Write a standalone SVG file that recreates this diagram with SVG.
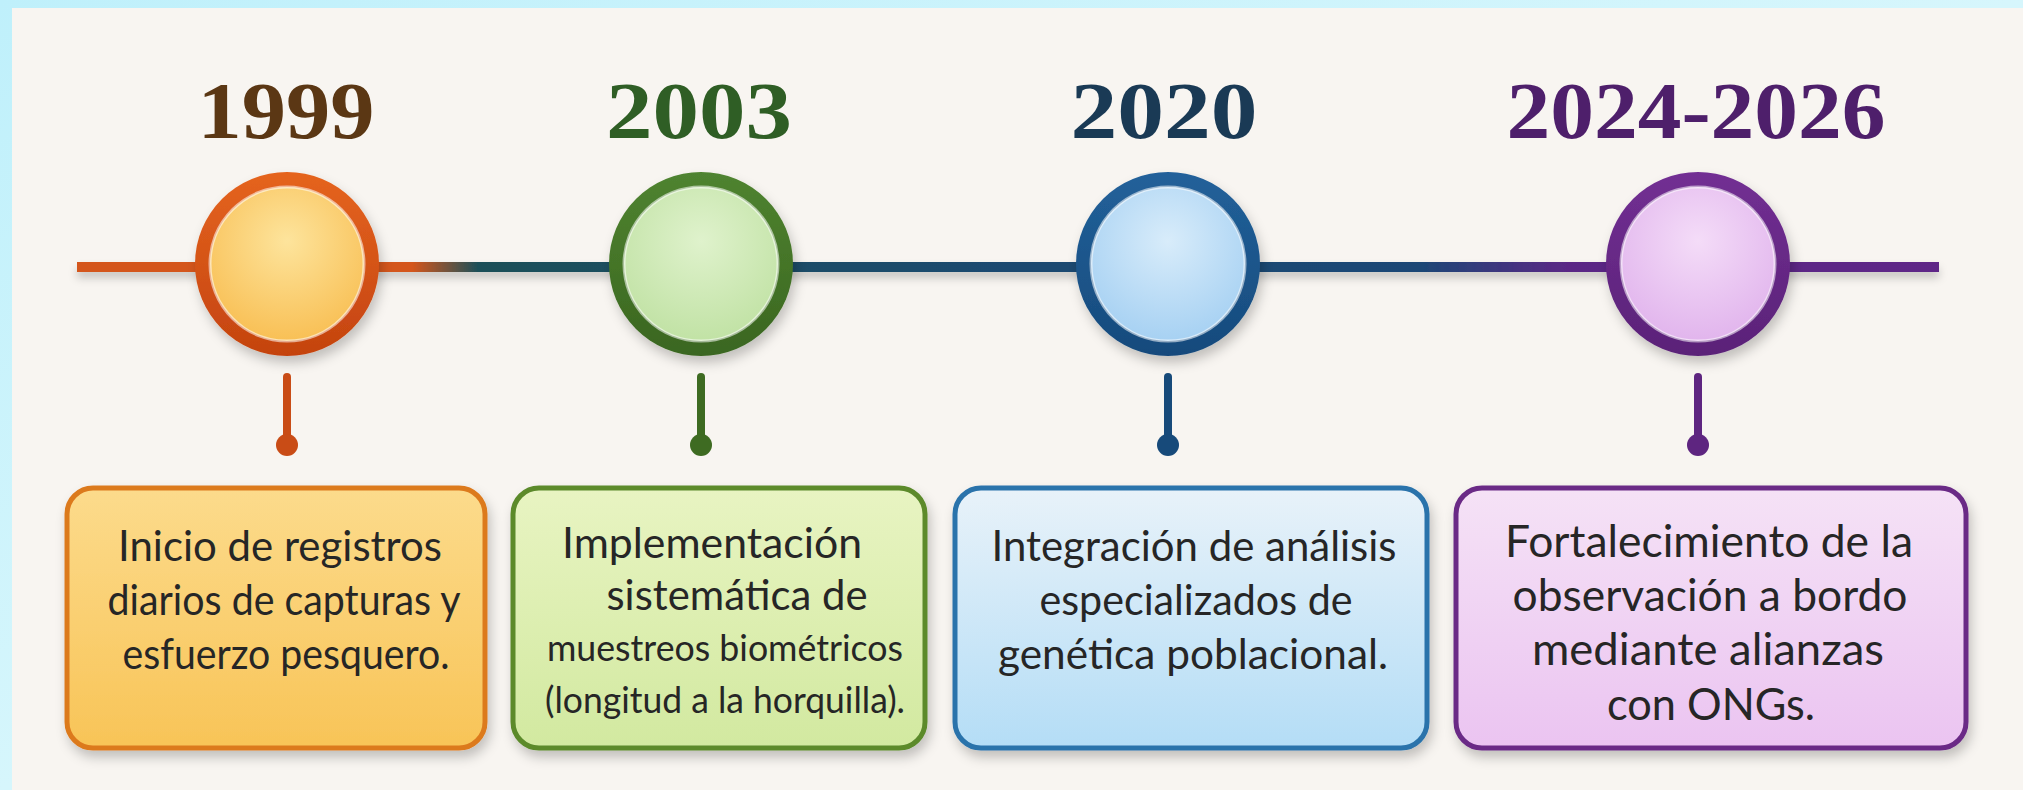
<svg xmlns="http://www.w3.org/2000/svg" width="2023" height="790" viewBox="0 0 2023 790">
<defs>
<linearGradient id="frame" x1="0" y1="0" x2="1" y2="1">
<stop offset="0" stop-color="#bff0fb"/><stop offset="0.5" stop-color="#d6f6fc"/><stop offset="1" stop-color="#bdeefa"/>
</linearGradient>
<linearGradient id="tl" gradientUnits="userSpaceOnUse" x1="77" y1="0" x2="1939" y2="0">
<stop offset="0" stop-color="#d4561c"/><stop offset="0.18" stop-color="#d4561c"/><stop offset="0.215" stop-color="#1f5058"/>
<stop offset="0.5" stop-color="#1c4a70"/><stop offset="0.72" stop-color="#1b4775"/><stop offset="0.8" stop-color="#5a2885"/><stop offset="1" stop-color="#5e2587"/>
</linearGradient>
<linearGradient id="r1" x1="0" y1="0" x2="0" y2="1"><stop offset="0" stop-color="#e5641f"/><stop offset="1" stop-color="#c4430f"/></linearGradient>
<linearGradient id="r2" x1="0" y1="0" x2="0" y2="1"><stop offset="0" stop-color="#4f8330"/><stop offset="1" stop-color="#3a6620"/></linearGradient>
<linearGradient id="r3" x1="0" y1="0" x2="0" y2="1"><stop offset="0" stop-color="#22619a"/><stop offset="1" stop-color="#164a7c"/></linearGradient>
<linearGradient id="r4" x1="0" y1="0" x2="0" y2="1"><stop offset="0" stop-color="#722f93"/><stop offset="1" stop-color="#5a2278"/></linearGradient>
<radialGradient id="c1" cx="0.5" cy="0.35" r="0.7"><stop offset="0" stop-color="#fde49c"/><stop offset="1" stop-color="#f8bd50"/></radialGradient>
<radialGradient id="c2" cx="0.5" cy="0.35" r="0.7"><stop offset="0" stop-color="#dff2cc"/><stop offset="1" stop-color="#bfe1a2"/></radialGradient>
<radialGradient id="c3" cx="0.5" cy="0.35" r="0.7"><stop offset="0" stop-color="#d8ecfa"/><stop offset="1" stop-color="#a3cff2"/></radialGradient>
<radialGradient id="c4" cx="0.5" cy="0.35" r="0.7"><stop offset="0" stop-color="#f4dcf8"/><stop offset="1" stop-color="#e0b2ec"/></radialGradient>
<linearGradient id="b1" x1="0" y1="0" x2="0" y2="1"><stop offset="0" stop-color="#fcdb8c"/><stop offset="1" stop-color="#f8c457"/></linearGradient>
<linearGradient id="b2" x1="0" y1="0" x2="0" y2="1"><stop offset="0" stop-color="#e8f4c2"/><stop offset="1" stop-color="#d2e9a0"/></linearGradient>
<linearGradient id="b3" x1="0" y1="0" x2="0" y2="1"><stop offset="0" stop-color="#e8f2f9"/><stop offset="1" stop-color="#b4ddf6"/></linearGradient>
<linearGradient id="b4" x1="0" y1="0" x2="0" y2="1"><stop offset="0" stop-color="#f5e2f6"/><stop offset="1" stop-color="#ebc4f1"/></linearGradient>
<filter id="sh" x="-20%" y="-20%" width="140%" height="150%"><feDropShadow dx="3" dy="7" stdDeviation="6" flood-color="#000" flood-opacity="0.22"/></filter>
<filter id="shl" filterUnits="userSpaceOnUse" x="60" y="240" width="1900" height="60"><feDropShadow dx="0" dy="6" stdDeviation="4" flood-color="#000" flood-opacity="0.2"/></filter>
</defs>
<style>
.yr{font-family:"Liberation Serif","Times New Roman",serif;font-weight:bold;font-size:80px;text-anchor:middle}
.tx{font-family:Lato,"Open Sans",sans-serif;font-size:43px;fill:#262626;text-anchor:middle}
.sm{font-size:37px}
.lg{font-size:45px}
.box{stroke-width:5}
.rim{stroke:#ffffff;stroke-opacity:0.55;stroke-width:3}
</style>
<rect id="bg" x="0" y="0" width="2023" height="790" fill="url(#frame)"/>
<rect x="12" y="8" width="2011" height="782" fill="#f8f5f1"/>

<g id="connectors">
<rect x="77" y="262" width="1862" height="10" fill="url(#tl)" filter="url(#shl)"/>
<g stroke-width="8" stroke-linecap="round">
<line x1="287" y1="377" x2="287" y2="440" stroke="#c94c16"/>
<line x1="701" y1="377" x2="701" y2="440" stroke="#3e6b22"/>
<line x1="1168" y1="377" x2="1168" y2="440" stroke="#174a7a"/>
<line x1="1698" y1="377" x2="1698" y2="440" stroke="#5e2580"/>
</g>
<circle cx="287" cy="445" r="11" fill="#c94c16"/>
<circle cx="701" cy="445" r="11" fill="#3e6b22"/>
<circle cx="1168" cy="445" r="11" fill="#174a7a"/>
<circle cx="1698" cy="445" r="11" fill="#5e2580"/>
</g>

<g id="node-1999">
<text class="yr" x="286" y="138" fill="#5b3714" textLength="177" lengthAdjust="spacingAndGlyphs">1999</text>
<circle cx="287" cy="264" r="92" fill="url(#r1)" filter="url(#sh)"/>
<circle cx="287" cy="264" r="77" fill="url(#c1)" class="rim"/>
<rect x="67" y="488" width="418" height="260" rx="26" fill="url(#b1)" stroke="#dc7a1f" class="box" filter="url(#sh)"/>
<text class="tx" x="280" y="561" textLength="324" lengthAdjust="spacingAndGlyphs">Inicio de registros</text>
<text class="tx" x="284" y="615" textLength="353" lengthAdjust="spacingAndGlyphs">diarios de capturas y</text>
<text class="tx" x="286" y="669" textLength="327" lengthAdjust="spacingAndGlyphs">esfuerzo pesquero.</text>
</g>

<g id="node-2003">
<text class="yr" x="699" y="138" fill="#2f5e25" textLength="186" lengthAdjust="spacingAndGlyphs">2003</text>
<circle cx="701" cy="264" r="92" fill="url(#r2)" filter="url(#sh)"/>
<circle cx="701" cy="264" r="77" fill="url(#c2)" class="rim"/>
<rect x="513" y="488" width="412" height="260" rx="26" fill="url(#b2)" stroke="#5b8a2c" class="box" filter="url(#sh)"/>
<text class="tx" x="712" y="558" textLength="300" lengthAdjust="spacingAndGlyphs">Implementación</text>
<text class="tx" x="737" y="610" textLength="261" lengthAdjust="spacingAndGlyphs">sistemática de</text>
<text class="tx sm" x="725" y="661" textLength="356" lengthAdjust="spacingAndGlyphs">muestreos biométricos</text>
<text class="tx sm" x="725" y="713" textLength="360" lengthAdjust="spacingAndGlyphs">(longitud a la horquilla).</text>
</g>

<g id="node-2020">
<text class="yr" x="1164" y="138" fill="#1a3a55" textLength="187" lengthAdjust="spacingAndGlyphs">2020</text>
<circle cx="1168" cy="264" r="92" fill="url(#r3)" filter="url(#sh)"/>
<circle cx="1168" cy="264" r="77" fill="url(#c3)" class="rim"/>
<rect x="955" y="488" width="472" height="260" rx="26" fill="url(#b3)" stroke="#2a73ab" class="box" filter="url(#sh)"/>
<text class="tx" x="1194" y="561" textLength="405" lengthAdjust="spacingAndGlyphs">Integración de análisis</text>
<text class="tx" x="1196" y="615" textLength="313" lengthAdjust="spacingAndGlyphs">especializados de</text>
<text class="tx" x="1193" y="669" textLength="390" lengthAdjust="spacingAndGlyphs">genética poblacional.</text>
</g>

<g id="node-2024-2026">
<text class="yr" x="1696" y="138" fill="#4e1f6b" textLength="379" lengthAdjust="spacingAndGlyphs">2024-2026</text>
<circle cx="1698" cy="264" r="92" fill="url(#r4)" filter="url(#sh)"/>
<circle cx="1698" cy="264" r="77" fill="url(#c4)" class="rim"/>
<rect x="1456" y="488" width="510" height="260" rx="26" fill="url(#b4)" stroke="#6b2a86" class="box" filter="url(#sh)"/>
<text class="tx lg" x="1709" y="557" textLength="408" lengthAdjust="spacingAndGlyphs">Fortalecimiento de la</text>
<text class="tx lg" x="1710" y="611" textLength="395" lengthAdjust="spacingAndGlyphs">observación a bordo</text>
<text class="tx lg" x="1708" y="665" textLength="352" lengthAdjust="spacingAndGlyphs">mediante alianzas</text>
<text class="tx lg" x="1711" y="720" textLength="208" lengthAdjust="spacingAndGlyphs">con ONGs.</text>
</g>
</svg>
